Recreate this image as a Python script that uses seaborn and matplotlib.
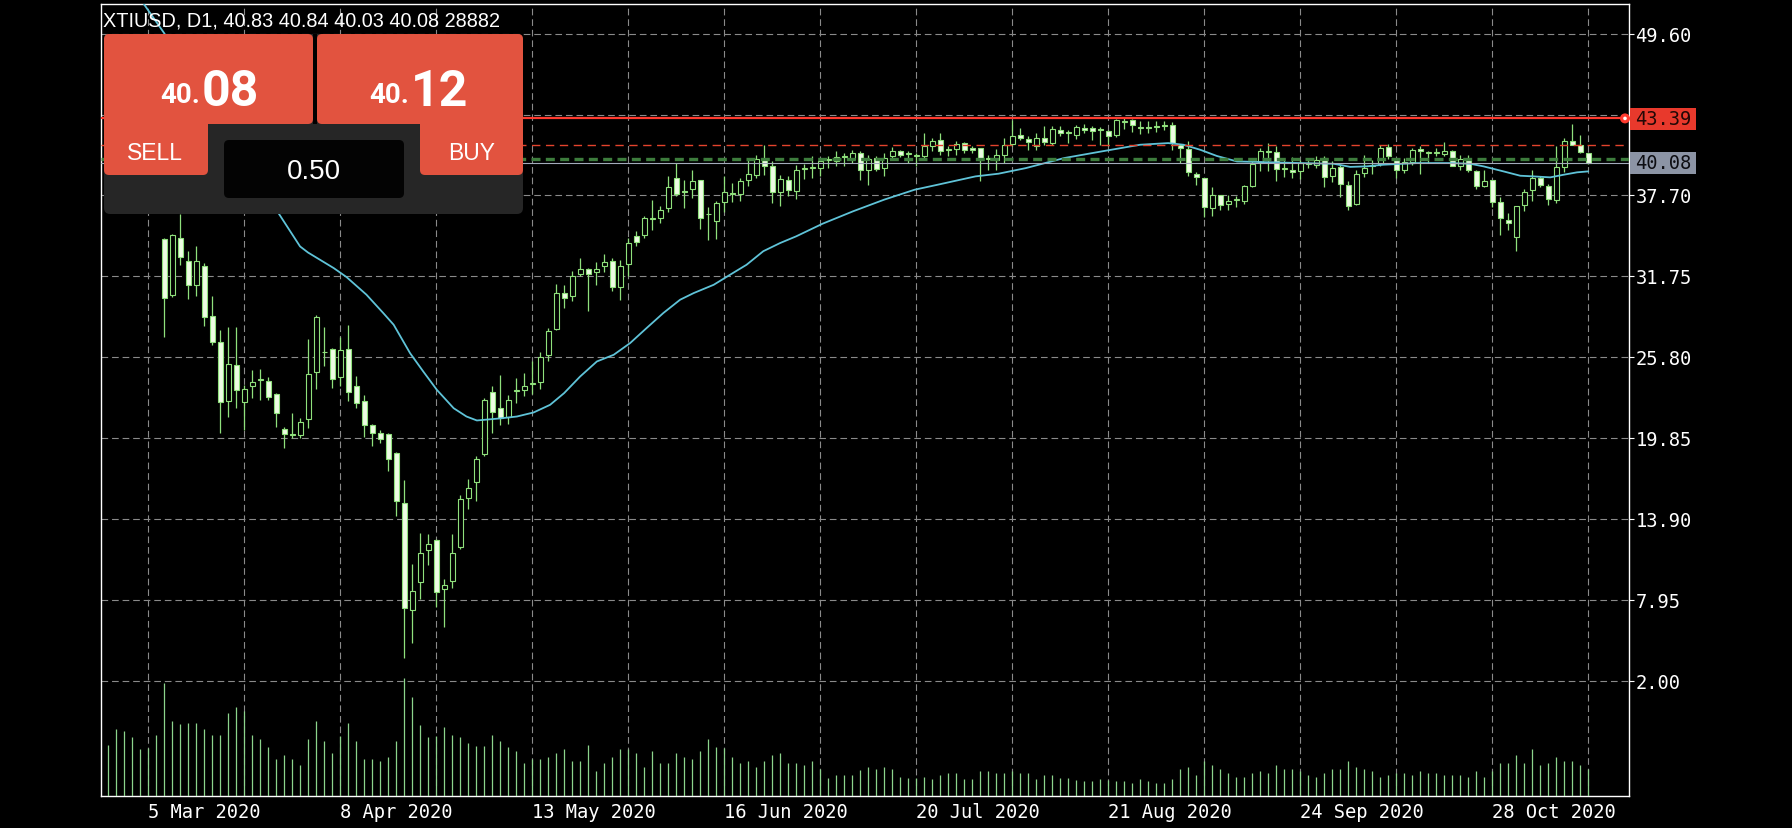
import numpy as np
import pandas as pd
import seaborn as sns
import matplotlib.pyplot as plt
from matplotlib.patches import FancyBboxPatch, Rectangle, Circle
from matplotlib.transforms import IdentityTransform

W, H = 1792, 828

# daily bars, 27 Feb 2020 .. 13 Nov 2020
opens = [
    48.6, 47.0, 45.2, 46.8, 47.2, 46.8, 45.9, 34.5, 30.4, 34.6,
    32.9, 31.1, 32.5, 28.8, 26.9, 22.55, 25.24, 22.5, 23.65, 24.1,
    24.02, 23.1, 20.51, 20.1, 20.05, 21.25, 24.68, 26.2, 26.4, 24.38,
    26.4, 23.65, 22.55, 20.83, 20.22, 20.17, 18.74, 15.11, 7.22, 9.3,
    11.63, 12.37, 8.74, 9.37, 11.83, 15.43, 16.61, 18.67, 23.21, 22.1,
    21.44, 23.3, 23.36, 23.8, 23.97, 25.93, 27.87, 30.52, 30.27, 31.91,
    32.31, 32.04, 32.48, 32.85, 30.96, 32.65, 34.69, 34.81, 36.0, 36.04,
    36.77, 38.98, 38.05, 38.17, 38.81, 36.3, 35.8, 37.21, 37.85, 37.78,
    38.86, 39.2, 40.36, 39.84, 37.92, 38.86, 38.0, 39.62, 39.7, 39.71,
    40.3, 40.2, 40.5, 40.38, 40.82, 39.59, 40.45, 39.71, 40.57, 40.94,
    40.74, 40.6, 40.62, 41.31, 41.75, 41.05, 41.11, 41.55, 41.19, 41.19,
    40.36, 40.28, 40.7, 41.48, 42.17, 41.85, 41.31, 41.92, 41.55, 42.49,
    42.3, 42.17, 42.66, 42.66, 42.6, 42.41, 42.17, 43.1, 43.22, 42.66,
    42.7, 42.8, 42.85, 42.9, 41.43, 41.11, 39.3, 38.98, 36.77, 37.7,
    37.07, 37.36, 37.26, 38.41, 40.13, 40.92, 40.87, 39.62, 39.59, 39.47,
    40.02, 39.96, 40.45, 39.15, 39.79, 38.49, 37.09, 39.35, 39.84, 40.03,
    41.26, 40.28, 39.54, 40.13, 41.11, 40.85, 40.8, 40.77, 40.94, 39.89,
    40.33, 39.47, 38.42, 38.8, 37.19, 35.86, 34.64, 37.02, 38.12, 38.98,
    38.42, 37.38, 39.79, 41.68, 41.38, 40.83]
highs = [
    48.7, 47.3, 47.0, 48.6, 47.9, 47.4, 46.0, 34.6, 34.9, 36.3,
    33.6, 34.0, 32.7, 30.3, 27.8, 28.06, 28.06, 23.77, 24.87, 24.92,
    24.34, 23.2, 20.7, 21.68, 21.32, 27.13, 28.92, 28.06, 26.47, 27.28,
    28.19, 24.43, 23.04, 20.9, 20.46, 20.2, 18.8, 16.78, 10.6, 12.86,
    12.81, 12.4, 9.47, 12.81, 15.68, 16.83, 18.55, 22.79, 23.65, 24.51,
    23.04, 24.26, 24.63, 25.49, 26.22, 27.94, 31.18, 31.13, 32.11, 33.09,
    32.35, 32.77, 33.4, 33.09, 32.97, 34.56, 35.05, 36.21, 37.38, 36.9,
    39.1, 40.08, 38.86, 39.59, 38.85, 36.85, 37.26, 39.1, 38.6, 39.0,
    40.4, 40.7, 41.43, 40.2, 39.22, 39.1, 39.96, 40.0, 40.57, 40.38,
    40.57, 40.94, 40.85, 41.06, 41.0, 40.7, 40.57, 40.82, 41.26, 41.06,
    40.94, 40.85, 42.29, 41.92, 42.29, 41.31, 41.68, 41.6, 41.31, 41.19,
    40.7, 41.11, 41.92, 43.27, 42.66, 42.05, 42.29, 42.83, 42.83, 42.78,
    42.49, 42.9, 42.98, 42.83, 42.73, 42.49, 43.3, 43.39, 43.3, 43.15,
    43.2, 43.2, 43.2, 43.07, 41.5, 41.68, 39.4, 38.98, 38.32, 37.7,
    37.7, 37.68, 38.49, 40.28, 41.19, 41.55, 41.31, 40.37, 40.52, 40.33,
    40.38, 40.62, 40.57, 40.2, 39.96, 38.73, 39.6, 40.69, 40.28, 41.43,
    41.5, 40.38, 40.45, 41.19, 41.3, 40.94, 41.19, 41.6, 41.06, 40.7,
    40.7, 39.54, 39.59, 38.8, 37.58, 36.4, 36.94, 38.17, 39.54, 39.15,
    38.56, 41.31, 41.92, 42.98, 42.17, 40.84]
lows = [
    46.0, 43.8, 44.5, 46.3, 46.4, 45.2, 41.0, 27.3, 30.2, 32.6,
    30.1, 30.3, 28.1, 26.7, 20.2, 21.44, 22.05, 20.46, 22.79, 22.67,
    22.67, 20.7, 19.11, 19.85, 19.85, 20.58, 23.45, 25.17, 23.53, 23.7,
    22.55, 22.05, 19.97, 19.28, 19.48, 17.4, 14.13, 3.66, 4.76, 8.0,
    10.53, 7.46, 5.94, 8.81, 11.7, 14.62, 15.26, 18.5, 20.22, 20.83,
    20.9, 22.42, 22.96, 23.08, 23.48, 25.56, 27.8, 29.41, 29.9, 31.74,
    29.17, 31.13, 32.1, 30.64, 30.03, 31.74, 34.0, 34.56, 35.18, 35.7,
    36.45, 37.63, 36.77, 37.5, 35.23, 34.44, 34.49, 36.45, 37.2, 37.3,
    38.4, 38.98, 39.22, 37.14, 36.94, 37.63, 37.43, 38.9, 38.98, 39.1,
    39.7, 39.84, 39.9, 40.1, 38.86, 38.49, 39.47, 39.15, 40.33, 40.52,
    40.08, 39.84, 40.45, 40.98, 40.7, 40.57, 40.7, 40.82, 40.82, 38.73,
    39.59, 39.59, 40.08, 41.31, 41.75, 41.06, 41.06, 41.43, 41.43, 42.09,
    41.55, 41.85, 42.29, 41.8, 41.43, 41.3, 42.0, 42.6, 42.4, 42.2,
    42.3, 42.4, 42.55, 41.06, 40.08, 39.15, 38.49, 36.11, 36.16, 36.65,
    36.65, 36.85, 37.1, 38.3, 39.47, 39.47, 38.73, 39.05, 38.98, 38.9,
    39.72, 39.72, 38.32, 38.66, 37.58, 36.6, 37.0, 39.05, 39.3, 39.84,
    40.38, 38.98, 39.35, 39.96, 39.3, 40.08, 40.57, 40.57, 39.84, 39.59,
    39.4, 38.17, 38.32, 36.85, 34.81, 35.18, 33.58, 36.53, 37.26, 38.32,
    37.02, 37.14, 39.4, 41.38, 40.82, 40.03]
closes = [
    47.1, 44.8, 46.7, 47.2, 46.8, 45.9, 41.3, 30.15, 34.8, 33.2,
    31.1, 32.9, 28.75, 26.9, 22.5, 25.29, 23.36, 23.45, 23.97, 24.15,
    22.91, 21.68, 20.14, 20.05, 21.0, 24.58, 28.75, 26.15, 24.19, 26.35,
    23.21, 22.42, 20.83, 20.22, 19.78, 18.3, 15.19, 7.34, 8.64, 11.43,
    12.05, 8.54, 9.08, 11.39, 15.36, 16.17, 18.3, 22.62, 21.76, 21.32,
    22.62, 23.4, 23.65, 23.84, 25.8, 27.75, 30.52, 30.15, 31.79, 32.31,
    31.91, 32.31, 32.82, 31.0, 32.53, 34.2, 34.27, 36.04, 36.05, 36.65,
    38.32, 37.8, 37.95, 38.73, 36.04, 36.33, 37.14, 37.92, 37.83, 38.75,
    39.28, 40.38, 39.86, 37.95, 38.93, 38.07, 39.54, 39.66, 39.72, 40.2,
    40.34, 40.52, 40.53, 40.82, 39.59, 40.38, 39.64, 40.45, 40.94, 40.7,
    40.76, 40.63, 41.31, 41.68, 40.94, 41.07, 41.48, 41.01, 41.01, 40.28,
    40.4, 40.7, 41.43, 42.09, 41.92, 41.6, 41.92, 41.6, 42.58, 42.29,
    42.28, 42.73, 42.49, 42.41, 42.49, 42.09, 43.22, 43.15, 42.9, 42.7,
    42.68, 42.76, 42.82, 41.55, 41.19, 39.4, 39.05, 36.85, 37.7, 37.02,
    37.26, 37.4, 38.37, 40.03, 40.99, 40.96, 39.64, 39.66, 39.45, 40.08,
    40.05, 40.33, 39.05, 39.71, 38.56, 36.89, 39.3, 39.71, 39.96, 41.19,
    40.57, 39.59, 40.13, 41.06, 40.94, 40.88, 40.83, 40.94, 39.89, 40.38,
    39.54, 38.42, 38.76, 37.19, 36.04, 35.67, 36.89, 37.92, 38.98, 38.49,
    37.43, 39.79, 41.68, 41.43, 40.89, 40.08]
# tick volume, thousands
volumes = [
    54.6, 71.7, 69.6, 62.8, 50.3, 51.0, 65.6, 121.3, 80.3, 76.7,
    78.5, 78.5, 71.3, 65.3, 65.3, 88.5, 95.6, 91.3, 65.3, 61.0,
    52.1, 39.6, 43.9, 39.6, 32.8, 61.0, 80.3, 58.9, 46.0, 63.9,
    78.5, 58.9, 39.6, 39.6, 37.5, 41.7, 58.9, 125.9, 105.6, 76.0,
    63.1, 63.9, 73.8, 65.3, 63.1, 57.1, 53.1, 53.1, 65.3, 58.9,
    52.8, 48.5, 35.7, 39.6, 39.6, 41.7, 46.0, 50.3, 37.5, 37.5,
    54.2, 26.8, 35.3, 41.7, 50.3, 50.3, 46.0, 31.4, 48.2, 35.3,
    35.3, 46.0, 41.7, 39.6, 48.5, 61.0, 52.4, 51.7, 41.7, 35.3,
    37.5, 31.0, 37.5, 43.9, 46.0, 35.3, 35.0, 33.2, 37.5, 28.5,
    18.9, 22.5, 22.5, 22.5, 27.8, 31.4, 28.9, 31.4, 28.9, 20.0,
    18.9, 18.9, 20.0, 18.2, 22.5, 24.3, 24.3, 18.2, 18.2, 27.1,
    27.1, 24.3, 24.3, 27.1, 24.3, 24.3, 18.2, 22.5, 22.5, 18.9,
    18.9, 17.1, 16.4, 16.4, 18.2, 17.1, 16.4, 16.4, 14.3, 18.2,
    16.4, 14.3, 14.3, 18.2, 28.9, 31.4, 22.5, 37.5, 33.2, 28.9,
    24.3, 20.0, 20.0, 24.3, 26.8, 24.3, 33.2, 28.9, 28.9, 27.1,
    22.5, 20.0, 24.3, 28.9, 28.9, 37.5, 31.4, 28.9, 27.1, 20.0,
    22.5, 24.3, 24.3, 22.5, 27.1, 24.3, 24.3, 22.5, 22.5, 22.5,
    20.0, 27.1, 20.0, 27.1, 35.7, 35.7, 43.9, 35.7, 50.3, 33.2,
    35.7, 42.1, 37.5, 37.5, 33.2, 28.9]

# moving average line (bar position, price)
ma_pos = [3.5, 7, 14, 21.3, 24, 25, 28.2, 29.8, 32.3, 34.4,
          35.7, 37.75, 39.4, 41.1, 43.2, 44.8, 46.1, 49, 51.1, 53.2,
          55.25, 57, 59, 61.1, 63.2, 65.25, 67.3, 69.4, 71.5, 73.2,
          75.7, 77.75, 79.8, 81.9, 84, 86, 89.3, 93.1, 97, 100.8,
          103.7, 108.4, 111.3, 114.7, 119.5, 124.2, 129, 132.5, 134.4, 136.5,
          138.6, 141.1, 144, 149, 153.2, 155.25, 157.3, 159.4, 163.6, 167.75,
          170.25, 171.9, 174.4, 176.5, 178.2, 180.25, 181.9, 183.6, 185]
ma_vals = [52.6, 49.65, 43.0, 36.4, 33.95, 33.5, 32.36, 31.7, 30.4, 29.05,
           28.19, 26.1, 24.75, 23.4, 22.05, 21.44, 21.15, 21.3, 21.44, 21.74,
           22.3, 23.16, 24.38, 25.49, 25.98, 26.84, 27.94, 29.05, 30.03, 30.52,
           31.13, 31.87, 32.6, 33.6, 34.2, 34.69, 35.62, 36.53, 37.39, 38.12,
           38.49, 39.1, 39.3, 39.71, 40.45, 40.94, 41.43, 41.55, 41.43, 41.06,
           40.6, 40.2, 40.16, 40.08, 40.03, 39.8, 39.84, 39.96, 40.08, 40.08,
           40.03, 39.84, 39.47, 39.15, 39.1, 39.03, 39.22, 39.4, 39.47]

price_ticks = [2.00, 7.95, 13.90, 19.85, 25.80, 31.75, 37.70, 43.65, 49.60]
date_labels = ["5 Mar 2020", "8 Apr 2020", "13 May 2020", "16 Jun 2020",
               "20 Jul 2020", "21 Aug 2020", "24 Sep 2020", "28 Oct 2020"]
header = "XTIUSD, D1, 40.83 40.84 40.03 40.08 28882"

GREEN = "#8fe07c"
FILL = "#eefce4"
RED = "#e2533f"

sns.set_theme(style="dark", rc={"axes.facecolor": "black", "figure.facecolor": "black"})
plt.rcParams["font.family"] = ["DejaVu Sans"]

fig = plt.figure(figsize=(W / 100 + 0.004, H / 100 + 0.004), dpi=100)
ax = fig.add_axes([101 / W, 1 - 796 / H, (1628.7 - 101) / W, (796 - 4) / H])
ax.set_facecolor("black")

dates = pd.bdate_range("2020-02-27", "2020-11-13")
dates = dates[dates != pd.Timestamp("2020-04-10")]
x = np.arange(len(dates))

o = np.array(opens)
c = np.array(closes)
bull = c >= o
lo = np.minimum(o, c)
hgt = np.maximum(np.abs(c - o), 0.07)

ax.vlines(x, lows, highs, color=GREEN, lw=0.9, zorder=2)
ax.bar(x[bull], hgt[bull], bottom=lo[bull], width=0.62, color="black",
       edgecolor=GREEN, linewidth=0.8, zorder=3)
ax.bar(x[~bull], hgt[~bull], bottom=lo[~bull], width=0.62, color=FILL,
       edgecolor=GREEN, linewidth=0.8, zorder=3)

sns.lineplot(x=ma_pos, y=ma_vals, ax=ax, color="#5fc3d8", lw=1.3, zorder=4)

ax.axhline(43.39, color="#ff3b2f", lw=1.6, zorder=5)
ax.axhline(41.42, color="#e4432d", lw=1.0, ls=(0, (6, 4)), zorder=5)
ax.axhline(40.38, color="#3d7d3d", lw=2.4, ls=(0, (2.7, 1.6)), zorder=5)
ax.axhline(40.08, color="#a3abbb", lw=0.8, zorder=5)

ax.set_xlim(-0.875, 190.1)
ax.set_ylim(-6.47, 51.81)

# volume on its own scale in the bottom of the window
ax2 = ax.twinx()
ax2.vlines(x, 0, volumes, color="#8cd48c", lw=0.9)
ax2.set_ylim(0, 847)
ax2.set_yticks([])
for s in ax2.spines.values():
    s.set_visible(False)

label_pos = [dates.get_loc(pd.Timestamp(d)) for d in date_labels]
ax.set_xticks(label_pos)
ax.set_xticklabels(date_labels, ha="left", fontfamily="DejaVu Sans Mono",
                   fontsize=13.5, color="white")
ax.set_xticks(np.arange(5, 190, 12), minor=True)
ax.tick_params(axis="x", which="major", length=3, width=0.8, color="white", pad=2)
ax.tick_params(axis="x", which="minor", length=0)

ax.yaxis.tick_right()
ax.set_yticks(price_ticks)
ax.set_yticklabels(["" if v == 43.65 else f"{v:.2f}" for v in price_ticks],
                   fontfamily="DejaVu Sans Mono", fontsize=13.5, color="white")
ax.tick_params(axis="y", length=3.6, width=0.8, color="white", pad=1)

ax.set_axisbelow(True)
grid_kw = dict(color="#8a8a8a", lw=0.8, ls=(0, (6, 3.5)))
ax.grid(True, axis="x", which="both", **grid_kw)
ax.grid(True, axis="y", which="major", **grid_kw)
for s in ax.spines.values():
    s.set_color("white")
    s.set_linewidth(1.0)
ax.set_xlabel("")
ax.set_ylabel("")

# ---- overlays in pixel coordinates ----
T = IdentityTransform()


def box(x0, y0, x1, y1, color, r=0, z=10):
    if r:
        p = FancyBboxPatch((x0, H - y1), x1 - x0, y1 - y0,
                           boxstyle=f"round,pad=0,rounding_size={r}",
                           fc=color, ec="none", transform=T, zorder=z)
    else:
        p = Rectangle((x0, H - y1), x1 - x0, y1 - y0, fc=color, ec="none",
                      transform=T, zorder=z)
    fig.add_artist(p)


def txt(xp, yp, s, **kw):
    kw.setdefault("color", "white")
    kw.setdefault("zorder", 12)
    fig.text(xp, H - yp, s, transform=T, **kw)


txt(103, 26, header, family="Liberation Sans", fontsize=14.3, va="baseline")

# trade panel
box(104, 34, 523, 214, "#262626", r=6)
box(104, 34, 313, 124, RED, r=5, z=11)
box(104, 100, 208, 175, RED, r=5, z=11)
box(317, 34, 523, 124, RED, r=5, z=11)
box(420, 100, 523, 175, RED, r=5, z=11)
box(313, 34, 317, 124, "black", z=11)
box(224, 140, 404, 198, "#030303", r=5, z=11)

bold = dict(family="Roboto", weight="bold", va="baseline")
txt(200, 103, "40.", ha="right", fontsize=20, **bold)
txt(202, 106, "08", ha="left", fontsize=36, **bold)
txt(409, 103, "40.", ha="right", fontsize=20, **bold)
txt(411, 106, "12", ha="left", fontsize=36, **bold)
txt(155, 153, "SELL", family="Liberation Sans", fontsize=16.5, ha="center", va="center")
txt(472, 153, "BUY", family="Liberation Sans", fontsize=16.5, ha="center", va="center")
txt(314, 172, "0.50", family="Liberation Sans", fontsize=20, ha="center", va="center")

# price boxes on the right
box(1630, 108, 1696, 130, "#e8392c", z=11)
txt(1663, 119.5, "43.39", family="DejaVu Sans Mono", fontsize=13.5, color="#220806",
    ha="center", va="center")
box(1630, 152, 1696, 174, "#8c94a5", z=11)
txt(1663, 163.5, "40.08", family="DejaVu Sans Mono", fontsize=13.5, color="#0d0d12",
    ha="center", va="center")
fig.add_artist(Circle((1625, H - 118.4), 5, fc="#ff3b2f", ec="none", transform=T, zorder=11))
fig.add_artist(Circle((1625, H - 118.4), 1.8, fc="white", ec="none", transform=T, zorder=12))

fig.savefig("out.png", dpi=100, facecolor="black")
